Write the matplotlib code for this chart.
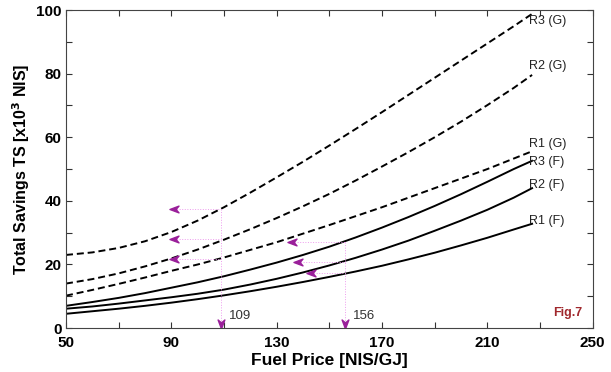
import numpy as np
import matplotlib.pyplot as plt
from matplotlib.path import Path
from matplotlib.ticker import FixedLocator

plt.rcParams['font.family'] = ['Liberation Sans', 'DejaVu Sans']

# fuel price [NIS/GJ]
price = [50, 60, 70, 80, 90, 100, 110, 120, 130, 140, 150, 160, 170, 180, 190, 200, 210, 220, 227]

# total savings [x10^3 NIS]
r3_g = [23.0, 23.8, 25.2, 27.3, 30.2, 33.8, 38.0, 42.6, 47.4, 52.3, 57.4, 62.6, 67.9, 73.3, 78.7, 84.1, 89.5, 94.9, 98.8]
r2_g = [14.0, 15.4, 17.2, 19.4, 21.9, 24.7, 27.8, 31.1, 34.6, 38.3, 42.2, 46.4, 50.8, 55.3, 60.0, 64.9, 70.1, 75.5, 79.6]
r1_g = [10.2, 12.0, 13.9, 15.9, 18.0, 20.0, 22.2, 24.6, 27.0, 29.7, 32.4, 35.2, 38.0, 41.0, 44.0, 47.0, 50.0, 53.3, 55.6]
r3_f = [7.0, 8.2, 9.5, 11.0, 12.7, 14.4, 16.3, 18.4, 20.6, 23.0, 25.6, 28.5, 31.6, 34.9, 38.4, 42.1, 46.0, 50.0, 52.6]
r2_f = [6.1, 6.8, 7.7, 8.7, 9.7, 10.8, 12.1, 13.7, 15.5, 17.5, 19.7, 22.1, 24.7, 27.5, 30.6, 33.8, 37.2, 41.0, 44.0]
r1_f = [4.5, 5.3, 6.1, 7.0, 8.0, 9.1, 10.3, 11.6, 13.0, 14.5, 16.1, 17.8, 19.6, 21.6, 23.7, 26.0, 28.4, 31.0, 32.8]

curves = [
    ('R3 (G)', r3_g, 'dash', 96.5),
    ('R2 (G)', r2_g, 'dash', 82.5),
    ('R1 (G)', r1_g, 'dash', 57.8),
    ('R3 (F)', r3_f, 'solid', 52.3),
    ('R2 (F)', r2_f, 'solid', 45.0),
    ('R1 (F)', r1_f, 'solid', 33.8),
]

# reading lines (break-even prices)
read_gas = 109
read_gas_y = [37.5, 27.9, 21.8]
read_gas_tip = [91, 91, 91]
read_fuel = 156
read_fuel_y = [27.0, 20.8, 17.3]
read_fuel_tip = [136, 138, 143]

x_major = [50, 90, 130, 170, 210, 250]
x_minor = [70, 110, 150, 190, 230]

fig = plt.figure(figsize=(6.11, 3.72), dpi=100)
ax = fig.add_axes([0.108, 0.118, 0.862, 0.855])

for name, ys, style, ly in curves:
    if style == 'dash':
        ax.plot(price, ys, color='black', lw=1.4, linestyle=(0, (3.6, 2.0)))
    else:
        ax.plot(price, ys, color='black', lw=1.4)
    ax.text(price[-1] - 1, ly, name, fontsize=9, ha='left', va='center', color='#222222')

# arrowhead markers
left_head = Path([(-1, 0), (1, 0.75), (0.35, 0), (1, -0.75), (-1, 0)],
                 [Path.MOVETO, Path.LINETO, Path.LINETO, Path.LINETO, Path.CLOSEPOLY])
down_head = Path([(0, -1), (0.75, 1), (0, 0.35), (-0.75, 1), (0, -1)],
                 [Path.MOVETO, Path.LINETO, Path.LINETO, Path.LINETO, Path.CLOSEPOLY])
dot_col = '#ee9cee'
head_col = '#9a1f9a'

for xr, ylist, tips in [(read_gas, read_gas_y, read_gas_tip), (read_fuel, read_fuel_y, read_fuel_tip)]:
    ax.plot([xr, xr], [max(ylist), 0.8], color=dot_col, lw=0.7, linestyle=':')
    ax.plot(xr, 1.2, marker=down_head, markersize=6.5, color=head_col, lw=0)
    for yy, tx in zip(ylist, tips):
        ax.plot([tx, xr], [yy, yy], color=dot_col, lw=0.7, linestyle=':')
        ax.plot(tx, yy, marker=left_head, markersize=6.5, color=head_col, lw=0)
    ax.text(xr + 3, 3.8, str(xr), fontsize=9.5, color='#333333', ha='left', va='center')

ax.text(246, 4.7, 'Fig.7', fontsize=9, color='#a0282d', ha='right', va='center', fontweight='bold')

ax.set_xlim(50, 250)
ax.set_ylim(0, 100)
ax.xaxis.set_major_locator(FixedLocator(x_major))
ax.xaxis.set_minor_locator(FixedLocator(x_minor))
ax.yaxis.set_major_locator(FixedLocator([0, 20, 40, 60, 80, 100]))
ax.yaxis.set_minor_locator(FixedLocator([10, 30, 50, 70, 90]))
ax.tick_params(which='both', direction='in', top=True, right=True, length=4, width=0.8, color='#333333')
ax.tick_params(axis='y', which='major', labelsize=11, pad=3)
ax.tick_params(axis='x', which='major', labelsize=11, pad=6)
for lab in ax.get_xticklabels() + ax.get_yticklabels():
    lab.set_fontweight('bold')
for sp in ax.spines.values():
    sp.set_linewidth(0.8)
    sp.set_color('#444444')

ax.set_xlabel('Fuel Price [NIS/GJ]', fontsize=12.5, fontweight='bold', labelpad=2)
ax.set_ylabel(r'Total Savings TS [x10$^{\mathbf{3}}$ NIS]', fontsize=11.5, fontweight='bold', labelpad=3)

fig.savefig('out.png', dpi=100)
